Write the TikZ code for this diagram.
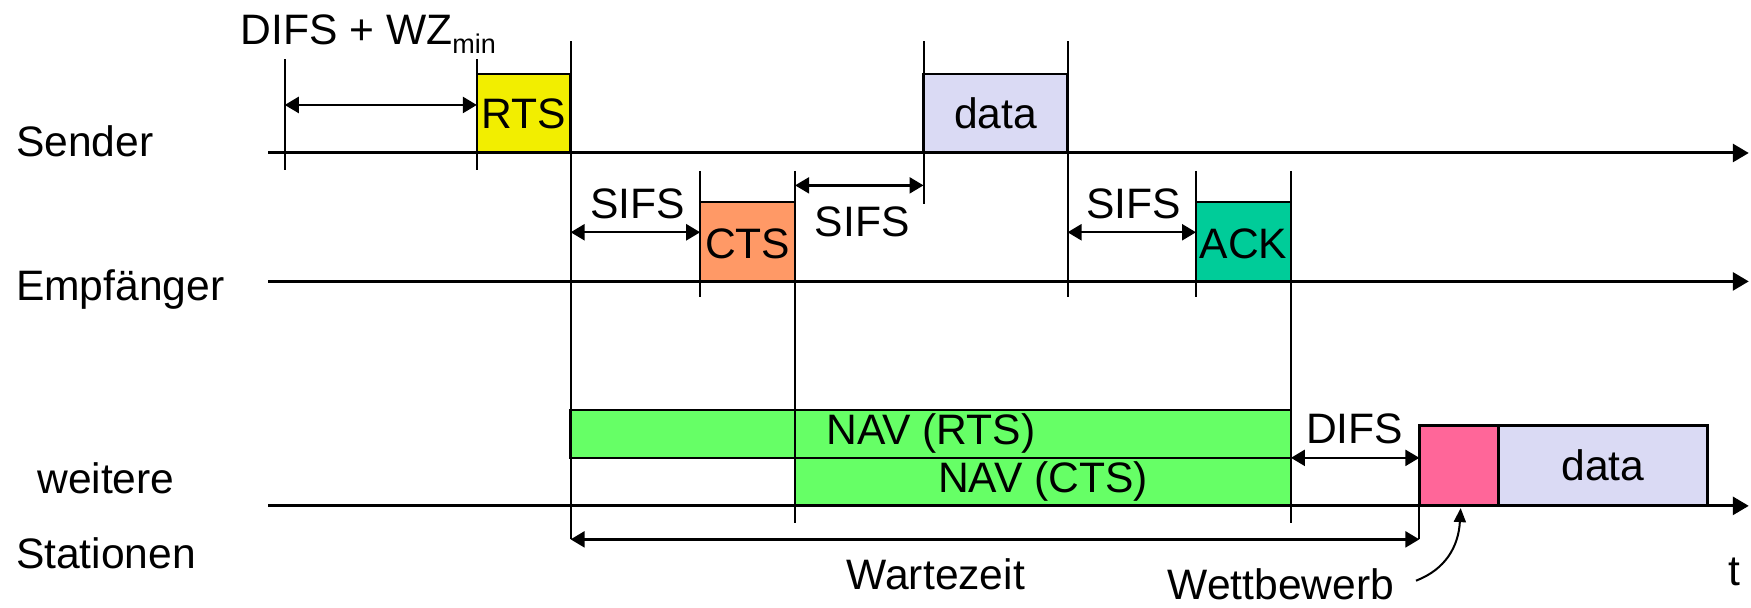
\documentclass[tikz,border=0pt]{standalone}
\usepackage{fontspec}
\setmainfont{Liberation Sans}
\usetikzlibrary{arrows.meta,fit}
\definecolor{rtsyellow}{HTML}{F2EE00}
\definecolor{ctsorange}{HTML}{FF9966}
\definecolor{datalav}{HTML}{DADAF4}
\definecolor{ackgreen}{HTML}{00CC99}
\definecolor{navgreen}{HTML}{66FF66}
\definecolor{contpink}{HTML}{FF6699}
\begin{document}
\begin{tikzpicture}[x=0.5584pt,y=-0.5584pt,
  lbl/.style={font=\fontsize{21.3}{25}\selectfont, inner sep=0pt},
  axis/.style={line width=1.5pt,-{Triangle[length=8pt,width=9pt]}},
  vline/.style={line width=1pt},
  pkt/.style={draw,line width=1.2pt,inner sep=0pt},
  dimarrow/.style={line width=1.2pt,{Triangle[length=7pt,width=8pt]}-{Triangle[length=7pt,width=8pt]}},
  callout/.style={line width=1pt,-{Triangle[length=7pt,width=6pt]}}]
\useasboundingbox (0,0) rectangle (1568,544);

% boxes
\node[pkt, fill=rtsyellow, fit={(427,66)(511,137)}] (rts) {};
\node[pkt, fill=datalav, fit={(827,66)(956,137)}] (sdata) {};
\node[pkt, fill=ctsorange, fit={(627,181)(712,252)}] (cts) {};
\node[pkt, fill=ackgreen, fit={(1071,181)(1156,252)}] (ack) {};
\node[pkt, fill=navgreen, fit={(511,367)(1156,410)}] (navrts) {};
\node[pkt, fill=navgreen, fit={(712,410)(1156,453)}] (navcts) {};
\node[pkt, fill=contpink, fit={(1271,381)(1342,453)}] (cont) {};
\node[pkt, fill=datalav, fit={(1342,381)(1529,453)}] (wdata) {};

% axes
\coordinate (sa0) at (240,137); \coordinate (sa1) at (1566,137);
\coordinate (ea0) at (240,252); \coordinate (ea1) at (1566,252);
\coordinate (wa0) at (240,453); \coordinate (wa1) at (1566,453);
\draw[axis] (sa0) -- (sa1);
\draw[axis] (ea0) -- (ea1);
\draw[axis] (wa0) -- (wa1);

% vertical lines
\coordinate (vA0) at (255,53);  \coordinate (vA1) at (255,152);
\coordinate (vB0) at (427,53);  \coordinate (vB1) at (427,152);
\coordinate (vC0) at (511,37);  \coordinate (vC1) at (511,483);
\coordinate (vD0) at (627,153); \coordinate (vD1) at (627,266);
\coordinate (vE0) at (712,153); \coordinate (vE1) at (712,468);
\coordinate (vF0) at (827,37);  \coordinate (vF1) at (827,183);
\coordinate (vG0) at (956,37);  \coordinate (vG1) at (956,266);
\coordinate (vH0) at (1071,153);\coordinate (vH1) at (1071,266);
\coordinate (vI0) at (1156,153);\coordinate (vI1) at (1156,468);
\coordinate (vJ0) at (1271,380);\coordinate (vJ1) at (1271,483);
\foreach \v in {A,B,C,D,E,F,G,H,I,J}{\draw[vline] (v\v0) -- (v\v1);}

% dimension arrows
\coordinate (dw0) at (255,94);   \coordinate (dw1) at (427,94);
\coordinate (s10) at (511,208);  \coordinate (s11) at (627,208);
\coordinate (s20) at (712,166);  \coordinate (s21) at (827,166);
\coordinate (s30) at (956,208);  \coordinate (s31) at (1071,208);
\coordinate (df0) at (1156,410); \coordinate (df1) at (1271,410);
\coordinate (wz0) at (511,483);  \coordinate (wz1) at (1271,483);
\draw[dimarrow] (dw0) -- (dw1);
\draw[dimarrow] (s10) -- (s11);
\draw[dimarrow] (s20) -- (s21);
\draw[dimarrow] (s30) -- (s31);
\draw[dimarrow] (df0) -- (df1);
\draw[dimarrow] (wz0) -- (wz1);

% box labels
\node[lbl] (rtsT) at (rts.center) {RTS};
\node[lbl] (sdataT) at (sdata.center) {data};
\node[lbl] (ctsT) at ([yshift=-1pt]cts.center) {CTS};
\node[lbl] (ackT) at ([yshift=-1pt]ack.center) {ACK};
\node[lbl] (navrtsT) at (navrts.center) {NAV (RTS)};
\node[lbl] (navctsT) at (navcts.center) {NAV (CTS)};
\node[lbl] (wdataT) at (wdata.center) {data};

% other labels
\node[lbl, anchor=base west] (sender) at (14,140) {Sender};
\node[lbl, anchor=base west] (empf) at (14,269) {Empfänger};
\node[lbl, anchor=base west] (weitere) at (33,442) {weitere};
\node[lbl, anchor=base west] (stat) at (14,509) {Stationen};
\node[lbl, anchor=base west] (difswz) at (215,40) {DIFS + WZ\raisebox{-4.2pt}{\fontsize{13.5}{15}\selectfont min}};
\node[lbl, anchor=base] (sifs1) at (571,196) {SIFS};
\node[lbl, anchor=base] (sifs2) at (772,212) {SIFS};
\node[lbl, anchor=base] (sifs3) at (1015,196) {SIFS};
\node[lbl, anchor=base] (difs) at (1213,397) {DIFS};
\node[lbl, anchor=base] (warte) at (838,528) {Wartezeit};
\node[lbl, anchor=base] (wett) at (1147,537) {Wettbewerb};
\node[lbl, anchor=base] (tlab) at (1553,524) {t};

% callout
\coordinate (cstart) at (1268,520);
\coordinate (ctip) at (1308,455);
\draw[callout] (cstart) .. controls (1294,510) and (1306,490) .. (ctip);
\end{tikzpicture}
\end{document}
